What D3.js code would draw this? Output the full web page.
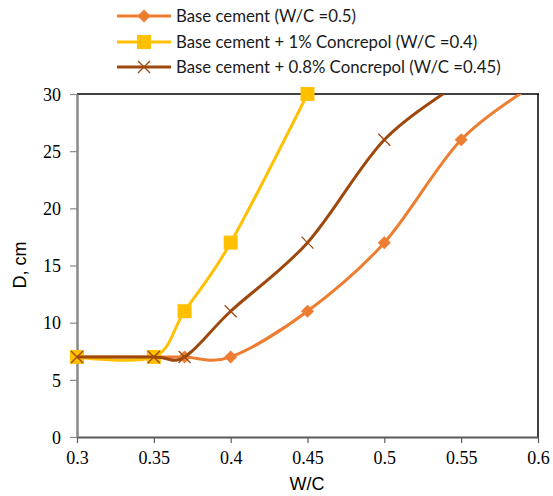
<!DOCTYPE html>
<html><head><meta charset="utf-8">
<script src="https://cdn.jsdelivr.net/npm/d3@7"></script>
<style>body{margin:0;background:#fff}</style>
</head><body>
<svg id="c" width="553" height="496"></svg>
<script>
const seriesNames = ["Base cement (W/C =0.5)", "Base cement + 1% Concrepol (W/C =0.4)", "Base cement + 0.8% Concrepol (W/C =0.45)"];
const wcBase = [0.3, 0.35, 0.37, 0.4, 0.45, 0.5, 0.55, 0.6];
const dBase = [7, 7, 7, 7, 11, 17, 26, 31];
const wcConc1 = [0.3, 0.35, 0.37, 0.4, 0.45];
const dConc1 = [7, 7, 11, 17, 30];
const wcConc08 = [0.3, 0.35, 0.37, 0.4, 0.45, 0.5, 0.55];
const dConc08 = [7, 7, 7, 11, 17, 26, 31];
const xTicks = [0.3, 0.35, 0.4, 0.45, 0.5, 0.55, 0.6];
const yTicks = [0, 5, 10, 15, 20, 25, 30];
const colors = ["#ED7D31", "#FFC000", "#9E480E"];
const markers = ["diamond", "square", "cross"];

const svg = d3.select("#c");
const L = 77, R = 538, T = 94, B = 437;
const x = d3.scaleLinear().domain([0.3, 0.6]).range([L, R]);
const y = d3.scaleLinear().domain([0, 30]).range([B, T]);

svg.append("defs").append("clipPath").attr("id", "pc")
  .append("rect").attr("x", L).attr("y", T).attr("width", R - L).attr("height", B - T);

// border top/right
svg.append("line").attr("x1", L).attr("x2", R + 1).attr("y1", T).attr("y2", T).attr("stroke", "#000").attr("stroke-width", 1.5);
svg.append("line").attr("x1", R).attr("x2", R).attr("y1", T).attr("y2", B).attr("stroke", "#000").attr("stroke-width", 1.5);

// axes
const xAxis = svg.append("g").attr("transform", `translate(0,${B})`)
  .attr("font-family", "Liberation Serif").attr("font-size", 18)
  .call(d3.axisBottom(x).tickValues(xTicks).tickSize(6).tickSizeOuter(0).tickFormat(d => String(+d.toFixed(2))));
xAxis.attr("font-family", "Liberation Serif").attr("font-size", 18);
xAxis.select(".domain").attr("stroke", "#595959").attr("stroke-width", 2);
xAxis.selectAll(".tick line").attr("stroke", "#595959").attr("stroke-width", 1.2);
xAxis.selectAll(".tick text").attr("y", 14).attr("dy", "0.71em").attr("fill", "#000")
  .style("font-family", "'Liberation Serif'").style("font-size", "18px");

const yAxis = svg.append("g").attr("transform", `translate(${L},0)`)
  .call(d3.axisLeft(y).tickValues(yTicks).tickSize(7).tickSizeOuter(0));
yAxis.attr("font-family", "Liberation Serif").attr("font-size", 18);
yAxis.select(".domain").attr("stroke", "#898989").attr("stroke-width", 2.5);
yAxis.selectAll(".tick line").attr("stroke", "#898989").attr("stroke-width", 1.2);
yAxis.selectAll(".tick text").attr("x", -16).attr("dy", "0.35em").attr("fill", "#000")
  .style("font-family", "'Liberation Serif'").style("font-size", "18px");

// titles
svg.append("text").attr("x", 307).attr("y", 490).attr("text-anchor", "middle")
  .attr("font-family", "Liberation Sans").attr("font-size", 18).text("W/C");
svg.append("text").attr("transform", "translate(26,265) rotate(-90)").attr("text-anchor", "middle")
  .attr("font-family", "Liberation Sans").attr("font-size", 18).text("D, cm");

const data = [
  wcBase.map((v, i) => [v, dBase[i]]),
  wcConc1.map((v, i) => [v, dConc1[i]]),
  wcConc08.map((v, i) => [v, dConc08[i]])
];

const line = d3.line().x(d => x(d[0])).y(d => y(d[1])).curve(d3.curveCardinal.tension(0));

function drawMarker(g, type, cx, cy, color) {
  if (type === "diamond") {
    g.append("path").attr("d", `M${cx},${cy - 6.5}L${cx + 6.5},${cy}L${cx},${cy + 6.5}L${cx - 6.5},${cy}Z`).attr("fill", color);
  } else if (type === "square") {
    g.append("rect").attr("x", cx - 7).attr("y", cy - 7).attr("width", 14).attr("height", 14).attr("fill", color);
  } else {
    g.append("path").attr("d", `M${cx - 6},${cy - 6}L${cx + 6},${cy + 6}M${cx - 6},${cy + 6}L${cx + 6},${cy - 6}`)
      .attr("stroke", color).attr("stroke-width", 1.3).attr("fill", "none");
  }
}

data.forEach((pts, si) => {
  const g = svg.append("g");
  g.append("path").attr("d", line(pts)).attr("fill", "none").attr("stroke", colors[si])
    .attr("stroke-width", 3).attr("clip-path", "url(#pc)");
  pts.filter(p => p[1] <= 30).forEach(p => drawMarker(g, markers[si], x(p[0]), y(p[1]), colors[si]));
});

// legend
const leg = svg.append("g");
const legY = [16, 42, 67];
seriesNames.forEach((n, i) => {
  leg.append("line").attr("x1", 117).attr("x2", 171).attr("y1", legY[i]).attr("y2", legY[i])
    .attr("stroke", colors[i]).attr("stroke-width", 3);
  drawMarker(leg, markers[i], 144, legY[i], colors[i]);
  leg.append("text").attr("x", 176).attr("y", legY[i]).attr("dy", "0.35em")
    .attr("font-family", "Lato").attr("font-size", 16.8).attr("fill", "#1a1a1a").text(n);
});
</script>
</body></html>
